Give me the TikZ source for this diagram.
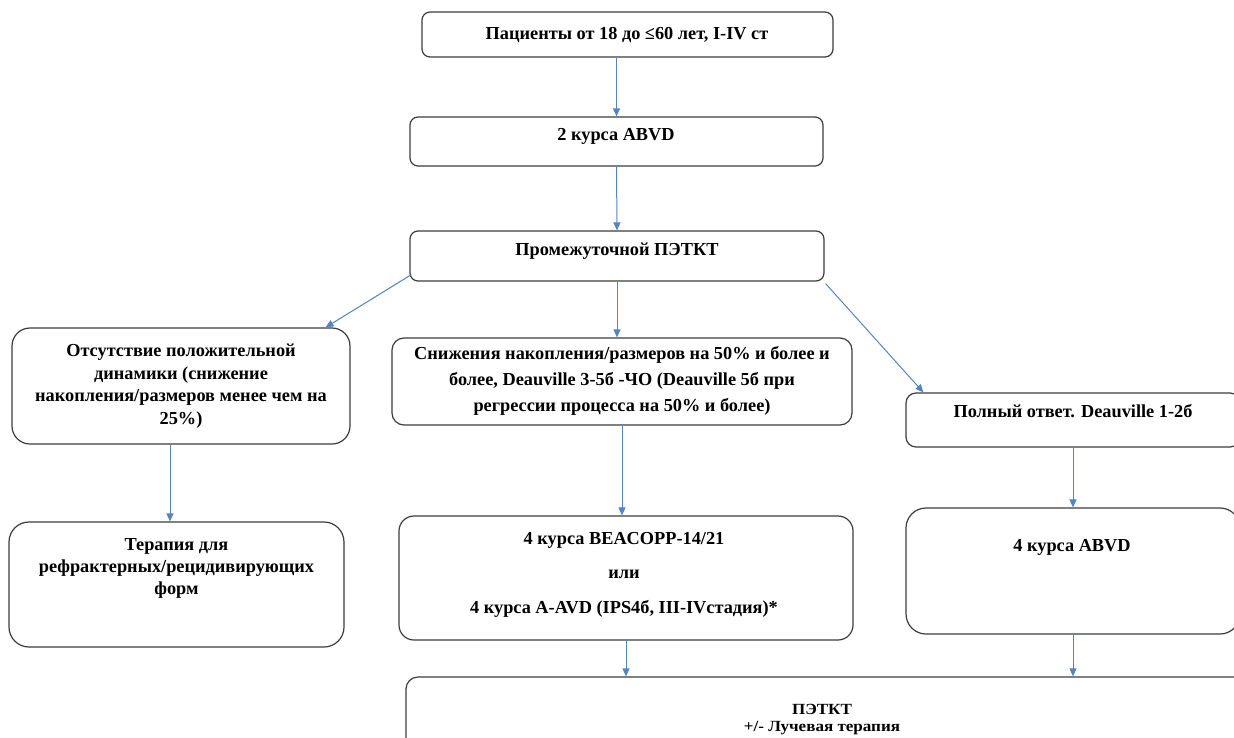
\documentclass[tikz,border=0pt]{standalone}
\usepackage{fontspec}
\setmainfont{Liberation Serif}
\newfontfamily\finalfont[FakeStretch=1.1]{Liberation Serif}
\usetikzlibrary{arrows.meta,positioning,calc}
\definecolor{boxgray}{RGB}{60,60,60}
\definecolor{arrblue}{RGB}{84,133,190}

\begin{document}
\begin{tikzpicture}[x=1pt,y=-1pt,
  box/.style={draw=boxgray,line width=1.2pt,rounded corners=#1,inner sep=0pt},
  box/.default=8pt,
  txt/.style={align=center,inner sep=0pt,font=\fontsize{18.3}{22.5}\selectfont\bfseries},
  arr/.style={draw=arrblue,line width=1pt,-{Triangle[length=8pt,width=7pt]}}]
\clip (0,0) rectangle (1234,737);
%%%%% Boxes %%%%%
\node[box, minimum width=411pt, minimum height=45pt] (start) at (627.5,34.5) {};
\node[box, minimum width=413pt, minimum height=49pt] (abvd2) at (616.5,141.5) {};
\node[box, minimum width=414pt, minimum height=50pt] (pet) at (617,256) {};
\node[box=18pt, minimum width=338pt, minimum height=116pt] (noresp) at (181,386) {};
\node[box=12pt, minimum width=460pt, minimum height=87pt] (resp) at (622,381.5) {};
\node[box=10pt, minimum width=334pt, minimum height=54pt] (full) at (1073,420) {};
\node[box=20pt, minimum width=335pt, minimum height=125pt] (refr) at (176.5,584.5) {};
\node[box=15pt, minimum width=454pt, minimum height=124pt] (bea) at (626,578) {};
\node[box=20pt, minimum width=334pt, minimum height=126pt] (abvd4) at (1073,571) {};
\node[box=12pt, minimum width=850pt, minimum height=83pt] (final) at (831,718.5) {};
%%%%% Texts %%%%%
\node[txt] (start-t) at (627,35) {Пациенты от 18 до ≤60 лет, I-IV ст};
\node[txt] (abvd2-t) at (616,136) {2 курса ABVD};
\node[txt] (pet-t) at (617,251.5) {Промежуточной ПЭТКТ};
\node[txt] (noresp-t) at (181,386) {Отсутствие положительной\\динамики (снижение\\накопления/размеров менее чем на\\25\%)};
\node[txt, font=\fontsize{18.3}{26}\selectfont\bfseries] (resp-t) at (622,381) {Снижения накопления/размеров на 50\% и более и\\более, Deauville 3-5б -ЧО (Deauville 5б при\\регрессии процесса на 50\% и более)};
\node[txt] (full-t) at (1073,411.5) {Полный ответ. Deauville 1-2б};
\node[txt, font=\fontsize{18.3}{22}\selectfont\bfseries] (refr-t) at (176.5,568) {Терапия для\\рефрактерных/рецидивирующих\\форм};
\node[txt, font=\fontsize{18.3}{34.5}\selectfont\bfseries] (bea-t) at (624,574.5) {4 курса BEACOPP-14/21\\или\\4 курса A-AVD (IPS4б, III-IVстадия)*};
\node[txt] (abvd4-t) at (1072,547) {4 курса ABVD};
\node[txt, font=\finalfont\fontsize{15.5}{17}\selectfont\bfseries] (final-t) at (822,720) {ПЭТКТ\\+/- Лучевая терапия};
%%%%% Arrows %%%%%
\draw[arr] (start.south -| abvd2) -- (abvd2.north);
\draw[arr] (abvd2.south) -- (pet.north);
\draw[arr] (pet.south) -- (pet.south |- resp.north);
\draw[arr] ($(pet.south west)+(2,-7)$) -- ($(noresp.north east)+(-25,0)$);
\draw[arr] ($(pet.south east)+(1,2)$) -- ($(full.north west)+(18,0)$);
\coordinate (c1) at ($(noresp.south)+(-11,0)$);
\draw[arr] (c1) -- (c1 |- refr.north);
\draw[arr] (resp.south) -- (resp.south |- bea.north);
\draw[arr] (full.south) -- (abvd4.north);
\draw[arr] (bea.south) -- (bea.south |- final.north);
\draw[arr] (abvd4.south) -- (abvd4.south |- final.north);
\end{tikzpicture}
\end{document}
